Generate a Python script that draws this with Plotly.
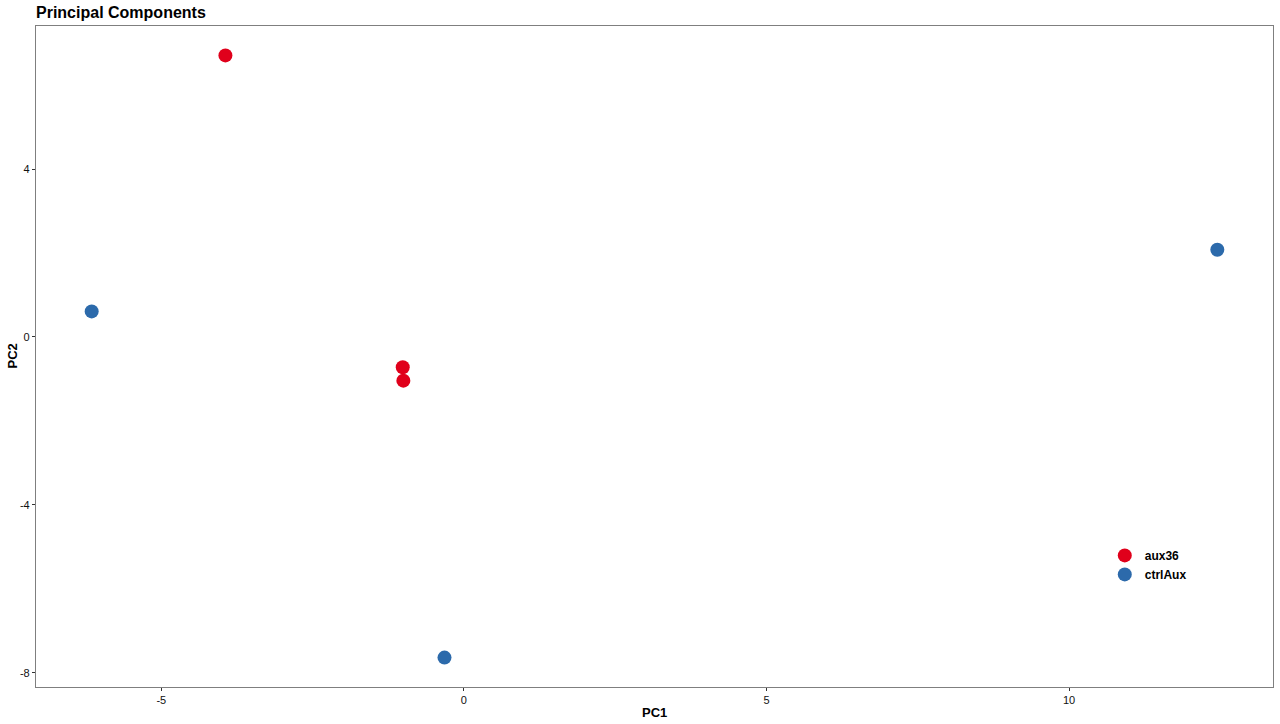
import plotly.graph_objects as go

# Datos
grupos = ["aux36", "ctrlAux"]
pc1_aux36 = [-3.94, -1.01, -1.00]
pc2_aux36 = [6.71, -0.72, -1.04]
pc1_ctrl = [-6.15, -0.32, 12.45]
pc2_ctrl = [0.61, -7.64, 2.08]
ticks_x = [-5, 0, 5, 10]
ticks_y = [-8, -4, 0, 4]
colores = {"aux36": "#e0001b", "ctrlAux": "#2c6aab"}

fig = go.Figure()

for nombre, xs, ys in [("aux36", pc1_aux36, pc2_aux36), ("ctrlAux", pc1_ctrl, pc2_ctrl)]:
    fig.add_trace(go.Scatter(
        x=xs, y=ys,
        mode='markers',
        name=nombre,
        marker=dict(color=colores[nombre], size=14, line=dict(width=0))
    ))

fuente = 'Liberation Sans, Arial'
eje = dict(
    showgrid=False,
    zeroline=False,
    showline=True,
    mirror=True,
    linecolor='#7f7f7f',
    linewidth=1.2,
    ticks='outside',
    ticklen=3,
    tickcolor='#333333',
    tickfont=dict(family=fuente, size=11, color='#111111'),
    automargin=False,
)

fig.update_layout(
    width=1280, height=724,
    title=dict(
        text="<b>Principal Components</b>",
        x=36/1280, xanchor='left',
        y=0.983, yanchor='middle',
        font=dict(family=fuente, size=16, color='black')
    ),
    xaxis=dict(eje, range=[-7.07, 13.37], tickvals=ticks_x,
               ticktext=[str(t) for t in ticks_x]),
    yaxis=dict(eje, range=[-8.34, 7.41], tickvals=ticks_y,
               ticktext=[str(t) for t in ticks_y]),
    plot_bgcolor='white',
    paper_bgcolor='white',
    showlegend=True,
    legend=dict(
        x=0.864, y=0.221,
        xanchor='left', yanchor='top',
        bgcolor='rgba(0,0,0,0)',
        font=dict(family=fuente, size=12, color='black', weight='bold'),
        tracegroupgap=0,
        itemwidth=30,
    ),
    margin=dict(l=36, r=7, t=26, b=37),
)

# titulos de ejes como anotaciones para ubicarlos como en el original
fig.add_annotation(text="<b>PC1</b>", x=0.5, y=0, xref='paper', yref='paper',
                   xanchor='center', yanchor='top', yshift=-16, showarrow=False,
                   font=dict(family=fuente, size=13, color='black'))
fig.add_annotation(text="<b>PC2</b>", x=0, y=0.5, xref='paper', yref='paper',
                   xanchor='center', yanchor='middle', xshift=-24, textangle=-90,
                   showarrow=False, font=dict(family=fuente, size=13, color='black'))

# quitar el margen del body para que la figura empiece en (0, 0)
fig.write_html("out.html", config={'displayModeBar': False},
               post_script="document.body.style.margin='0px';")
